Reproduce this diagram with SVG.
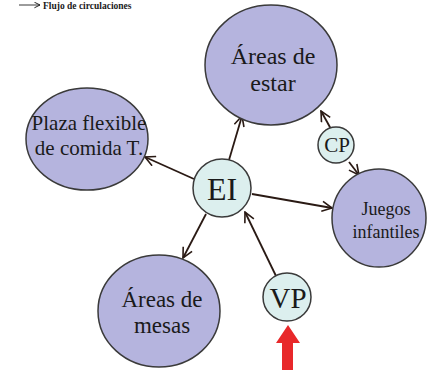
<svg xmlns="http://www.w3.org/2000/svg" width="427" height="370" viewBox="0 0 427 370">
<defs>
<style>
.big{fill:#b5b4de;stroke:#3a3a3a;stroke-width:1.5}
.small{fill:#dcefee;stroke:#3a3a3a;stroke-width:1.5}
.t{fill:#1a1a1a;text-anchor:middle}
.con{stroke:#2a1a14;stroke-width:1.8;fill:none;marker-end:url(#ah)}
</style>
<marker id="ah" viewBox="0 0 12 12" refX="11" refY="6" markerWidth="12" markerHeight="12" markerUnits="userSpaceOnUse" orient="auto">
<path d="M1,1 L11,6 L1,11" fill="none" stroke="#2a1a14" stroke-width="1.6"/>
</marker>
<marker id="ahs" viewBox="0 0 10 10" refX="9" refY="5" markerWidth="7" markerHeight="7" markerUnits="userSpaceOnUse" orient="auto">
<path d="M1,1 L9,5 L1,9" fill="none" stroke="#222" stroke-width="1.4"/>
</marker>
</defs>
<rect width="427" height="370" fill="#ffffff"/>
<g font-family="'Liberation Serif', 'DejaVu Serif', serif">
<g id="legend">
<line x1="19" y1="5" x2="40" y2="5" stroke="#222" stroke-width="0.9" marker-end="url(#ahs)"/>
<text x="43" y="8.5" font-size="9.5" font-weight="bold" fill="#1a1a1a">Flujo de circulaciones</text>
</g>
<g id="connectors">
<line class="con" x1="229" y1="160" x2="242" y2="116"/>
<line class="con" x1="194" y1="179" x2="145" y2="157"/>
<line class="con" x1="252" y1="194" x2="332" y2="208"/>
<line class="con" x1="206" y1="214" x2="183" y2="258"/>
<line class="con" x1="276" y1="276" x2="245" y2="212"/>
<line class="con" x1="331" y1="129" x2="321" y2="111"/>
<line class="con" x1="349" y1="162" x2="359" y2="175"/>
</g>
<g id="areas-estar">
<ellipse class="big" cx="271" cy="65" rx="66" ry="60"/>
<text class="t" x="273" y="64" font-size="24">Áreas de</text>
<text class="t" x="273" y="91" font-size="24">estar</text>
</g>
<g id="plaza">
<ellipse class="big" cx="87" cy="139" rx="61" ry="51"/>
<text class="t" x="89" y="130" font-size="21">Plaza flexible</text>
<text class="t" x="89" y="155" font-size="21">de comida T.</text>
</g>
<g id="juegos">
<ellipse class="big" cx="379" cy="218" rx="47" ry="49"/>
<text class="t" x="386" y="215" font-size="18">Juegos</text>
<text class="t" x="386" y="238" font-size="18">infantiles</text>
</g>
<g id="areas-mesas">
<ellipse class="big" cx="159" cy="311" rx="61" ry="56"/>
<text class="t" x="162" y="307" font-size="23">Áreas de</text>
<text class="t" x="162" y="333" font-size="23">mesas</text>
</g>
<g id="EI">
<circle class="small" cx="222" cy="188" r="29"/>
<text class="t" x="222" y="200" font-size="32">EI</text>
</g>
<g id="CP">
<circle class="small" cx="336" cy="145" r="18"/>
<text class="t" x="337" y="152" font-size="21">CP</text>
</g>
<g id="VP">
<circle class="small" cx="287" cy="297" r="24"/>
<text class="t" x="288" y="308" font-size="29">VP</text>
</g>
<g id="entrada">
<path d="M288,325 L300,343 L293,343 L293,370 L282,370 L282,343 L276,343 Z" fill="#e8282a"/>
</g>
</g>
</svg>
